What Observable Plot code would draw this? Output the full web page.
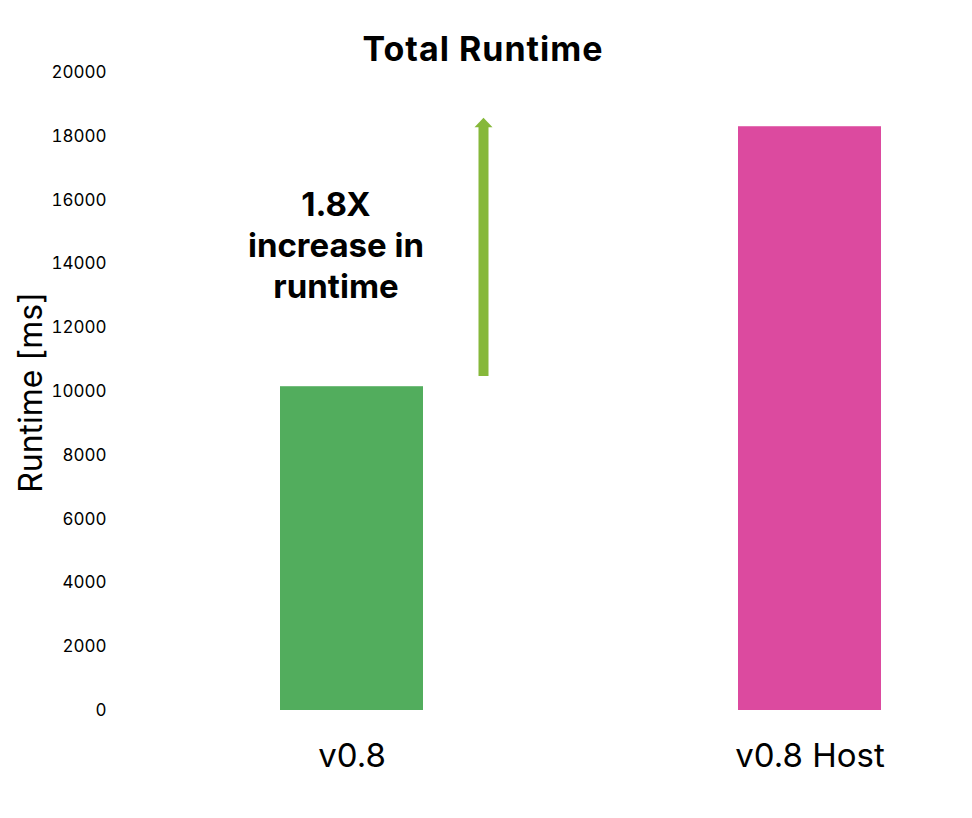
<!DOCTYPE html>
<html>
<head>
<meta charset="utf-8">
<script src="https://cdn.jsdelivr.net/npm/d3@7"></script>
<script src="https://cdn.jsdelivr.net/npm/@observablehq/plot@0.6"></script>
<style>
  html, body { margin: 0; padding: 0; background: #fff; }
  #wrap { position: relative; width: 972px; height: 818px; }
  #title { position: absolute; top: 29px; left: 0; width: 966px; text-align: center;
           font-family: Inter, "Noto Sans", sans-serif; font-weight: 700; font-size: 34px; letter-spacing: 1px; line-height: 40px; color: #000; }
</style>
</head>
<body>
<div id="wrap">
  <div id="title">Total Runtime</div>
</div>
<script>
const categories = ["v0.8", "v0.8 Host"];
const runtimes = [10150, 18300];
const barColors = ["#52ad5d", "#dc4a9f"];
const yTicks = [0, 2000, 4000, 6000, 8000, 10000, 12000, 14000, 16000, 18000, 20000];
const arrowRange = [10470, 18280];
const annotationText = ["1.8X\nincrease in\nruntime"];
const annotationY = [14620];

const bars = categories.map((c, i) => ({category: c, runtime: runtimes[i], color: barColors[i]}));
const arrow = [{category: categories[0], y1: arrowRange[0], y2: arrowRange[1]}];

const flatTriangle = {
  draw(context) {
    context.moveTo(-9, 0);
    context.lineTo(0, -9.5);
    context.lineTo(9, 0);
    context.closePath();
  }
};

const chart = Plot.plot({
  width: 972,
  height: 818,
  marginTop: 72,
  marginBottom: 108,
  marginLeft: 120,
  marginRight: 0,
  style: {fontFamily: "Inter, 'Noto Sans', sans-serif", color: "#000", background: "#fff"},
  x: {domain: categories, paddingInner: 0.688, paddingOuter: 0.273, align: 0.639, label: null},
  y: {domain: [0, 20000], label: null},
  marks: [
    Plot.barY(bars, {x: "category", y: "runtime", fill: "color"}),
    Plot.ruleX(arrow, {x: "category", y1: "y1", y2: "y2", dx: 131.5, stroke: "#86b83a", strokeWidth: 10}),
    Plot.dot(arrow, {x: "category", y: "y2", dx: 131.5, symbol: flatTriangle, fill: "#86b83a", stroke: "none", r: 9}),
    Plot.text(annotationText, {x: () => categories[0], y: annotationY, dx: -16, text: d => d, lineHeight: 1.24,
      fontSize: 33, fontWeight: 700, fill: "#000", textAnchor: "middle"}),
    Plot.axisY({ticks: yTicks, tickSize: 0, tickPadding: 14, fontSize: 17, tickFormat: d => String(d), label: null}),
    Plot.axisX({tickSize: 0, tickPadding: 33, fontSize: 33, label: null}),
    Plot.text(["Runtime [ms]"], {frameAnchor: "left", dx: -89, dy: 1, rotate: -90, text: d => d, fontSize: 32, fill: "#000", textAnchor: "middle"})
  ]
});
document.getElementById("wrap").appendChild(chart);
</script>
</body>
</html>
